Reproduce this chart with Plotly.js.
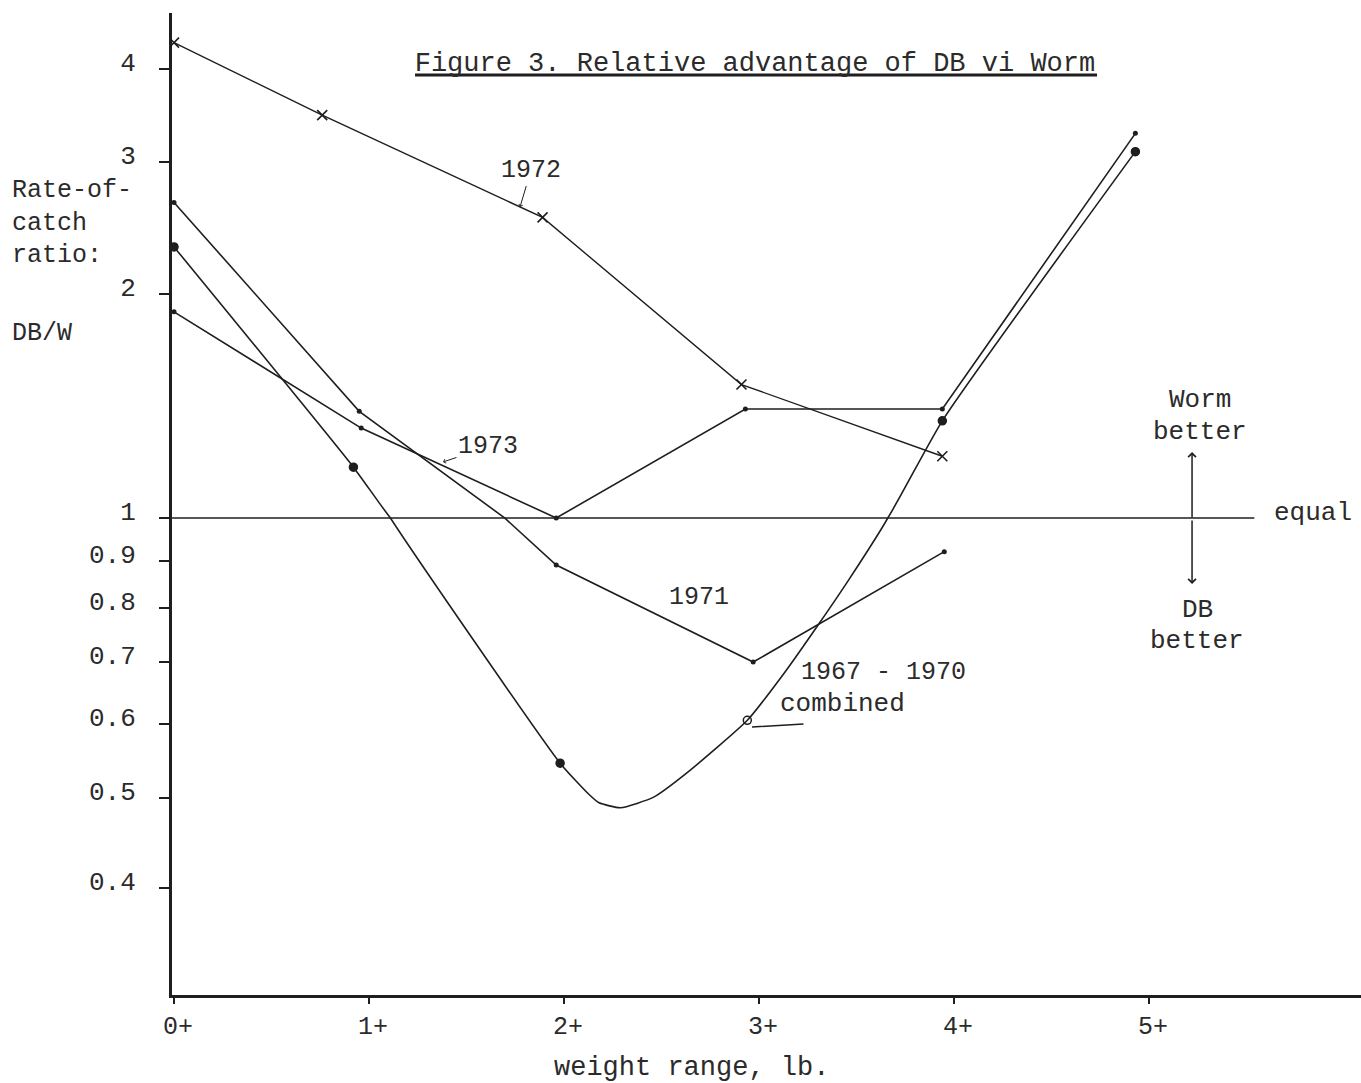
<!DOCTYPE html>
<html><head><meta charset="utf-8">
<script src="https://cdn.plot.ly/plotly-3.0.1.min.js"></script>
<style>html,body{margin:0;padding:0;background:#fff}</style>
</head><body>
<div id="chart" style="width:1361px;height:1083px"></div>
<script>
// ---- data ----
const weightCategories = ['0+','1+','2+','3+','4+','5+'];
const categoryPositions = [0,1,2,3,4,5];
const upperTickValues = [1,2,3,4];
const upperTickLabels = ['1','2','3','4'];
const lowerTickValues = [0.4,0.5,0.6,0.7,0.8,0.9];
const lowerTickLabels = ['0.4','0.5','0.6','0.7','0.8','0.9'];

const x1972 = [0, 0.76, 1.89, 2.91, 3.94];
const y1972 = [4.34, 3.47, 2.53, 1.51, 1.21];

const x1973 = [0, 0.96, 1.96, 2.93, 3.94, 4.93];
const y1973 = [1.89, 1.32, 1.0, 1.40, 1.40, 3.28];

const x1971 = [0, 0.95, 1.96, 2.97, 3.95];
const y1971 = [2.65, 1.39, 0.89, 0.70, 0.92];

const xCombinedPoints = [0, 0.92, 1.98, 2.94, 3.94, 4.93];
const yCombinedPoints = [2.31, 1.17, 0.545, 0.606, 1.35, 3.10];

// hand-fitted curve for 1967-1970 combined
const xCombinedCurve = [0, 0.92, 1.11, 1.98, 2.13, 2.18, 2.29, 2.46, 2.63, 2.94, 3.14, 3.31, 3.46, 3.66, 3.94, 4.93];
const yCombinedCurve = [2.31, 1.17, 1.0, 0.545, 0.504, 0.494, 0.488, 0.501, 0.532, 0.606, 0.686, 0.771, 0.858, 1.0, 1.35, 3.10];

const equalX = [-0.01, 5.54];
const equalY = [1, 1];

// ---- styling ----
const INK = '#1e1e1e';
const TEXT = '#2b2b2b';
const FONT = 'Liberation Mono, Courier New, monospace';

const traces = [];
function addSeries(x, y, extra) {
  ['y','y2'].forEach(ax => {
    traces.push(Object.assign({x: x, y: y, xaxis: 'x', yaxis: ax, type: 'scatter',
      hoverinfo: 'skip', cliponaxis: true}, JSON.parse(JSON.stringify(extra))));
  });
}
addSeries(equalX, equalY, {mode:'lines', line:{color:INK, width:1.6}});
addSeries(x1972, y1972, {mode:'lines+markers', line:{color:INK, width:1.4},
  marker:{symbol:'x-thin', size:10, color:INK, line:{color:INK, width:1.6}}});
addSeries(x1973, y1973, {mode:'lines+markers', line:{color:INK, width:1.6},
  marker:{symbol:'circle', size:5, color:INK}});
addSeries(x1971, y1971, {mode:'lines+markers', line:{color:INK, width:1.6},
  marker:{symbol:'circle', size:5, color:INK}});
addSeries(xCombinedCurve, yCombinedCurve, {mode:'lines', line:{color:INK, width:1.6, shape:'spline', smoothing:0.5}});
addSeries(xCombinedPoints, yCombinedPoints, {mode:'markers',
  marker:{symbol:['circle','circle','circle','circle-open','circle','circle'], size:8, color:INK, line:{color:INK, width:1.5}}});

const split = 477/982;
const axisCommon = {type:'log', showgrid:false, zeroline:false, showline:true, linewidth:3, linecolor:INK,
  ticks:'outside', ticklen:10, tickwidth:2, tickcolor:INK, anchor:'x', ticklabelstandoff:18, ticklabelshift:-7,
  tickfont:{family:FONT, size:26, color:TEXT}, fixedrange:true};

function label(x, y, text, size, extra) {
  return Object.assign({xref:'paper', yref:'paper', x:x, y:y, text:text, showarrow:false,
    xanchor:'center', yanchor:'middle', font:{size:size}}, extra || {});
}

const layout = {
  width:1361, height:1083,
  margin:{l:172, r:0, t:13, b:88, pad:0},
  paper_bgcolor:'#ffffff', plot_bgcolor:'#ffffff',
  showlegend:false, hovermode:false,
  font:{family:FONT, size:26, color:TEXT},
  title:{text:'Figure 3. Relative advantage of DB vi Worm', xref:'container', yref:'container',
    x:0.5547, y:0.9428, xanchor:'center', yanchor:'middle', font:{family:FONT, size:27, color:TEXT}},
  xaxis:{range:[-0.0103, 6.087], tickmode:'array', tickvals:categoryPositions, ticktext:weightCategories,
    showgrid:false, zeroline:false, showline:true, linewidth:3, linecolor:INK,
    ticks:'outside', ticklen:6, tickwidth:1.5, tickcolor:INK, anchor:'y2', ticklabelstandoff:0, ticklabelshift:4,
    tickfont:{family:FONT, size:25, color:TEXT}, fixedrange:true},
  yaxis:Object.assign({}, axisCommon, {domain:[split,1], range:[0, 0.6773], tickmode:'array',
    tickvals:upperTickValues, ticktext:upperTickLabels}),
  yaxis2:Object.assign({}, axisCommon, {domain:[0,split], range:[-0.5129, 0], tickmode:'array',
    tickvals:lowerTickValues, ticktext:lowerTickLabels}),
  shapes:[
    {type:'line', xref:'paper', yref:'paper', x0:0.2044, x1:0.778, y0:0.9369, y1:0.9369, line:{color:INK, width:3}}
  ],
  annotations:[
    label(-0.1362, 0.7865, 'Rate-of-<br>catch<br>ratio:', 25, {xanchor:'left', align:'left'}),
    label(-0.1362, 0.6741, 'DB/W', 25, {xanchor:'left'}),
    label(0.4373, -0.0743, 'weight range, lb.', 27),
    {xref:'paper', yref:'paper', x:0.2927, y:0.8024, text:'1972', showarrow:true, ax:11, ay:-37,
      arrowhead:4, arrowsize:0.8, arrowwidth:1, arrowcolor:INK, font:{size:25}},
    {xref:'paper', yref:'paper', x:0.2279, y:0.5428, text:'1973', showarrow:true, ax:45, ay:-15,
      arrowhead:4, arrowsize:0.8, arrowwidth:1, arrowcolor:INK, font:{size:25}},
    label(0.4432, 0.4043, '1971', 25),
    label(0.598, 0.3289, '1967 - 1970', 25),
    label(0.5643, 0.2963, 'combined', 26),
    {xref:'paper', yref:'paper', x:0.4878, y:0.2729, text:'', showarrow:true, ax:53, ay:-3,
      arrowhead:0, arrowwidth:1.5, arrowcolor:INK},
    label(0.8646, 0.6059, 'Worm', 26),
    label(0.8646, 0.5733, 'better', 26),
    label(0.9596, 0.4908, 'equal', 26),
    label(0.8621, 0.392, 'DB', 26),
    label(0.8621, 0.3605, 'better', 26),
    {xref:'paper', yref:'paper', x:0.8579, y:0.553, text:'', showarrow:true, ax:0, ay:67,
      arrowhead:4, arrowsize:1, arrowwidth:1.5, arrowcolor:INK},
    {xref:'paper', yref:'paper', x:0.8579, y:0.4185, text:'', showarrow:true, ax:0, ay:-65,
      arrowhead:4, arrowsize:1, arrowwidth:1.5, arrowcolor:INK}
  ]
};

Plotly.newPlot('chart', traces, layout, {displayModeBar:false, staticPlot:true});
</script>
</body></html>
